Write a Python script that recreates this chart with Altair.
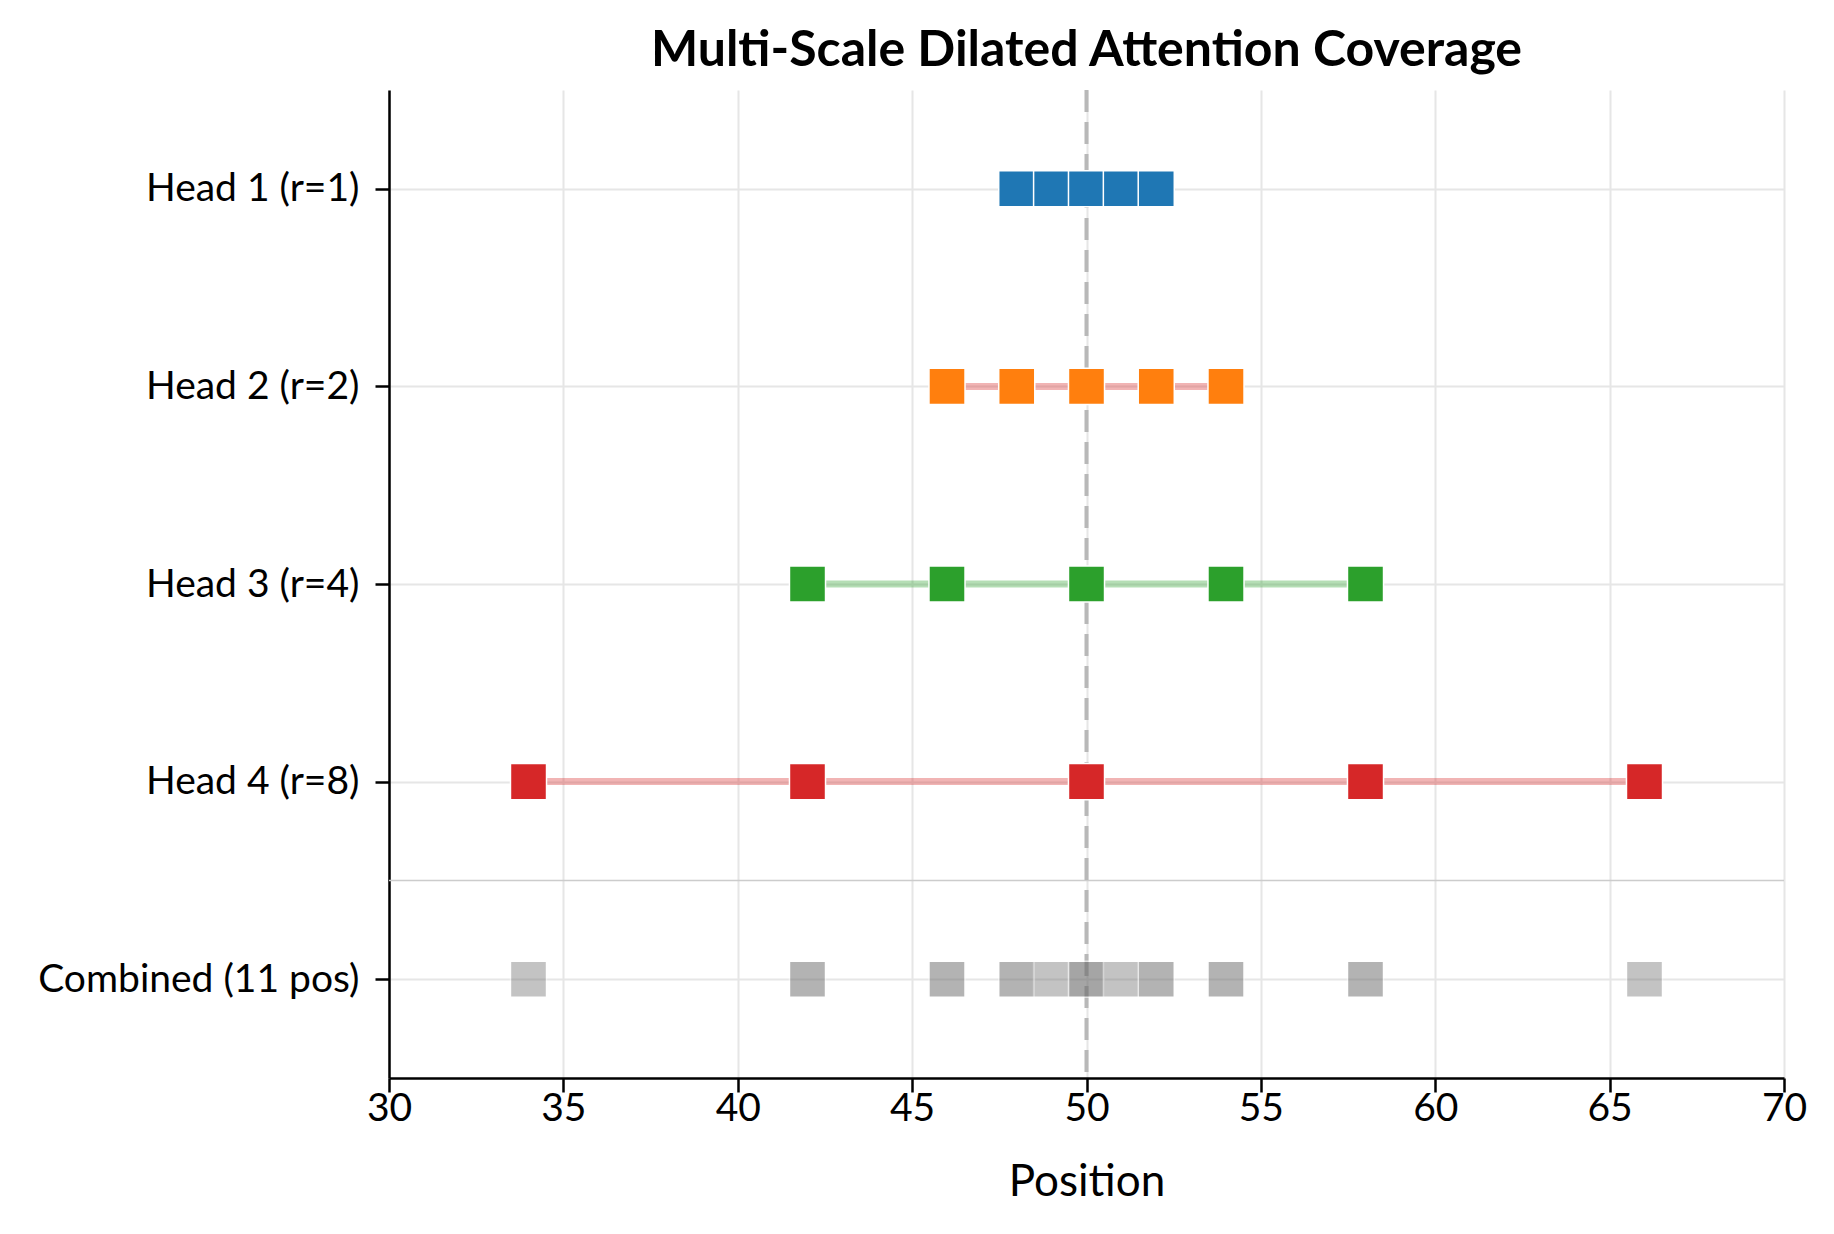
import altair as alt
import pandas as pd

# ---- data ----
head_names = ["Head 1 (r=1)", "Head 2 (r=2)", "Head 3 (r=4)", "Head 4 (r=8)"]
head_rows = [4, 3, 2, 1]
head1_pos = [48, 49, 50, 51, 52]
head2_pos = [46, 48, 50, 52, 54]
head3_pos = [42, 46, 50, 54, 58]
head4_pos = [34, 42, 50, 58, 66]
marker_colors = ["#1f77b4", "#ff7f0e", "#2ca02c", "#d62728"]
line_colors = ["#1f77b4", "#d62728", "#2ca02c", "#d62728"]
center = 50
x_ticks = [30, 35, 40, 45, 50, 55, 60, 65, 70]

all_pos = [head1_pos, head2_pos, head3_pos, head4_pos]

rows = []
for name, yv, pos, mc, lc in zip(head_names, head_rows, all_pos, marker_colors, line_colors):
    for p in pos:
        rows.append({"head": name, "y": yv, "pos": p, "mc": mc, "lc": lc})
heads_df = pd.DataFrame(rows)

counts = {}
for pos in all_pos:
    for p in pos:
        counts[p] = counts.get(p, 0) + 1
comb_df = pd.DataFrame({"pos": list(counts.keys()), "count": list(counts.values()), "y": 0})
combined_label = f"Combined ({len(counts)} pos)"

y_labels = [combined_label] + head_names[::-1]
label_expr = "[" + ",".join("'" + s + "'" for s in y_labels) + "][datum.value]"

FONT = "Lato"

def X():
    return alt.X("pos:Q", scale=alt.Scale(domain=[30, 70], nice=False, zero=False),
                 axis=alt.Axis(values=x_ticks, title="Position", titleFontSize=44,
                               titleFontWeight="normal", titlePadding=32,
                               labelPadding=-3, labelFlush=False, format="d"))

def Y():
    return alt.Y("y:Q", scale=alt.Scale(domain=[-0.5, 4.5], nice=False, zero=False),
                 axis=alt.Axis(values=[0, 1, 2, 3, 4], labelExpr=label_expr, title=None,
                               labelPadding=16, labelLimit=0, labelFlush=False))

lines = alt.Chart(heads_df).mark_line(strokeWidth=7, opacity=0.35).encode(
    x=X(), y=Y(), detail="head:N", color=alt.Color("lc:N", scale=None)
)

vline = alt.Chart(pd.DataFrame({"pos": [center]})).mark_rule(
    color="#b8b8b8", strokeWidth=4, strokeDash=[22, 10]
).encode(x=X())

sep = alt.Chart(pd.DataFrame({"y": [0.5]})).mark_rule(
    color="#cccccc", strokeWidth=1.5
).encode(y=Y())

pts = alt.Chart(heads_df).mark_square(size=1300, stroke="white", strokeWidth=1.5, opacity=1).encode(
    x=X(), y=Y(), color=alt.Color("mc:N", scale=None)
)

comb = alt.Chart(comb_df).mark_square(size=1300, stroke="white", strokeWidth=1.5, color="#6a6a6a").encode(
    x=X(), y=Y(),
    opacity=alt.Opacity("count:O", scale=alt.Scale(domain=[1, 2, 4], range=[0.4, 0.6, 0.95]), legend=None),
)

chart = alt.layer(sep, lines, vline, pts, comb).properties(
    width=1395, height=988,
    autosize=alt.AutoSizeParams(type="none"),
    padding={"left": 381, "top": 82, "right": 40, "bottom": 140},
    title=alt.TitleParams("Multi-Scale Dilated Attention Coverage", fontSize=50, font=FONT,
                          fontWeight="bold", anchor="middle", offset=12, color="black"),
).configure_view(stroke=None).configure_axis(
    labelFont=FONT, titleFont=FONT, labelFontSize=39, labelColor="black", titleColor="black",
    domainColor="black", domainWidth=2.5, tickColor="black", tickWidth=2.5, tickSize=14,
    gridColor="#e6e6e6", gridWidth=2,
)

chart.save("out.html", embed_options={"renderer": "svg", "actions": False})
